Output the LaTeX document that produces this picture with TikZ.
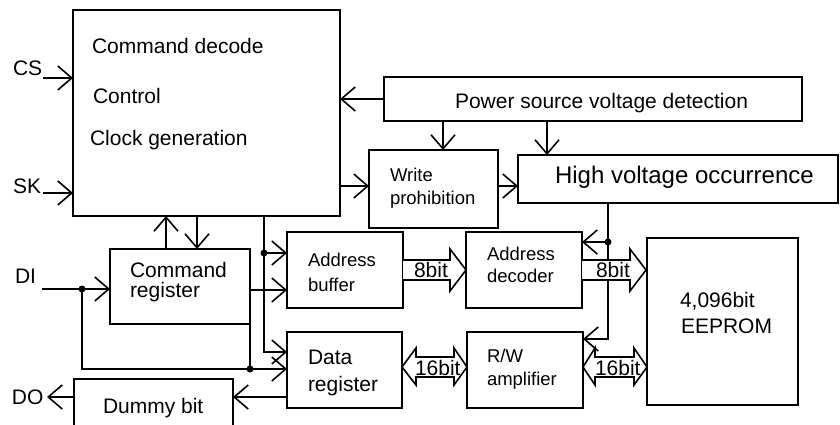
\documentclass[tikz,border=0pt]{standalone}
\usepackage{fontspec}
\setmainfont{Liberation Sans}
\usetikzlibrary{arrows.meta}
\begin{document}
\begin{tikzpicture}[x=1pt,y=-1pt,
  line width=1.6pt,
  box/.style={draw, rectangle, inner sep=0pt, outer sep=0pt, anchor=north west},
  txt/.style={inner sep=0pt, outer sep=0pt, anchor=base west, font=\fontsize{21}{25}\selectfont},
  stxt/.style={txt, font=\fontsize{18.5}{22}\selectfont},
  btxt/.style={txt, font=\fontsize{24}{28}\selectfont},
  arr/.style={-{Straight Barb[length=14pt,width=24pt]}},
  dot/.style={circle, fill, inner sep=0pt, minimum size=7pt},
  bus/.style={fill=white, line join=miter}
]
\useasboundingbox (0,0) rectangle (840,425);
\clip (0,0) rectangle (840,425);
\fill[white] (0,0) rectangle (840,425);

% boxes
\node[box, minimum width=267pt, minimum height=206pt] (ctrl) at (73,10) {};
\node[box, minimum width=418pt, minimum height=44pt] (power) at (384,77) {};
\node[box, minimum width=129pt, minimum height=78pt] (wp) at (369,150) {};
\node[box, minimum width=320pt, minimum height=48pt] (hv) at (518,155) {};
\node[box, minimum width=116pt, minimum height=76pt] (ab) at (287,232) {};
\node[box, minimum width=116pt, minimum height=76pt] (ad) at (466,232) {};
\node[box, minimum width=115pt, minimum height=76pt] (dr) at (287,332) {};
\node[box, minimum width=116pt, minimum height=76pt] (rw) at (467,332) {};
\node[box, minimum width=151pt, minimum height=167pt] (ee) at (647,238) {};
\node[box, minimum width=140pt, minimum height=75pt] (cr) at (110,249) {};
\node[box, minimum width=159pt, minimum height=60pt] (dummy) at (74,379) {};

% coordinates
\coordinate (cs) at (43,78);
\coordinate (sk) at (43,193);
\coordinate (di) at (42,289);
\coordinate (doc) at (47,397);
\coordinate (xa) at (443,0);
\coordinate (xb) at (547,0);
\coordinate (ya) at (0,186);
\coordinate (j1) at (608,242);
\coordinate (y339) at (0,339);
\coordinate (xu) at (166,0);
\coordinate (xd) at (197,0);
\coordinate (j2) at (82,289);
\coordinate (j3) at (250,369);
\coordinate (y290) at (0,290);
\coordinate (j4) at (264,253);
\coordinate (y352) at (0,352);
\coordinate (y397) at (0,397);

% connectors
\draw[arr] (cs) -- (ctrl.west |- cs);
\draw[arr] (sk) -- (ctrl.west |- sk);
\draw[arr] (power.west) -- (ctrl.east |- power.west);
\draw[arr] (power.south -| xa) -- (wp.north -| xa);
\draw[arr] (power.south -| xb) -- (hv.north -| xb);
\draw[arr] (ctrl.east |- ya) -- (wp.west |- ya);
\draw[arr] (wp.east |- ya) -- (hv.west |- ya);
\draw[arr] (hv.south -| j1) |- (rw.east |- y339);
\draw[arr] (j1) -- (ad.east |- j1);
\draw[arr] (cr.north -| xu) -- (ctrl.south -| xu);
\draw[arr] (ctrl.south -| xd) -- (cr.north -| xd);
\draw[arr] (di) -- (cr.west |- di);
\draw[arr] (j2) |- (dr.west |- j3);
\draw[arr] (cr.east |- y290) -- (ab.west |- y290);
\draw (cr.east |- y290) -- (j3);
\draw[arr] (ctrl.south -| j4) |- (dr.west |- y352);
\draw[arr] (j4) -- (ab.west |- j4);
\draw[arr] (dr.west |- y397) -- (dummy.east |- y397);
\draw[arr] (dummy.west |- y397) -- (doc);
\node[dot] (d1) at (j1) {};
\node[dot] (d2) at (j2) {};
\node[dot] (d3) at (j3) {};
\node[dot] (d4) at (j4) {};

% bus arrows
\filldraw[bus] (403,260) -- (450,260) -- (450,249) -- (466,270) -- (450,291) -- (450,280) -- (403,280);
\filldraw[bus] (582,260) -- (630,260) -- (630,249) -- (646,270) -- (630,291) -- (630,280) -- (582,280);
\filldraw[bus] (402,367) -- (416,348) -- (416,357) -- (454,357) -- (454,348) -- (467,367) -- (454,385) -- (454,377) -- (416,377) -- (416,385) -- cycle;
\filldraw[bus] (583,367) -- (595,348) -- (595,357) -- (634,357) -- (634,348) -- (647,367) -- (634,385) -- (634,377) -- (595,377) -- (595,385) -- cycle;

% texts
\node[txt] (t1) at (92,54) {Command decode};
\node[txt] (t2) at (93,103) {Control};
\node[txt] (t3) at (90,146) {Clock generation};
\node[txt] (t4) at (13,76) {CS};
\node[txt] (t5) at (13,193) {SK};
\node[txt] (t6) at (15,283) {DI};
\node[txt] (t7) at (12,404) {DO};
\node[txt] (t8) at (455,109) {Power source voltage detection};
\node[btxt] (t9) at (555,183) {High voltage occurrence};
\node[stxt] (t10) at (390,181) {Write};
\node[stxt] (t11) at (390,204) {prohibition};
\node[stxt] (t12) at (308,266) {Address};
\node[stxt] (t13) at (308,291) {buffer};
\node[stxt] (t14) at (487,260) {Address};
\node[stxt] (t15) at (487,282) {decoder};
\node[txt] (t16) at (308,364) {Data};
\node[txt] (t17) at (308,391) {register};
\node[stxt] (t18) at (487,362) {R/W};
\node[stxt] (t19) at (487,385) {amplifier};
\node[txt] (t20) at (130,277) {Command};
\node[txt] (t21) at (130,297) {register};
\node[txt] (t22) at (680,307) {4,096bit};
\node[txt] (t23) at (681,333) {EEPROM};
\node[txt] (t24) at (103,413) {Dummy bit};
\node[txt] (t25) at (414,277) {8bit};
\node[txt] (t26) at (596,277) {8bit};
\node[txt] (t27) at (415,375) {16bit};
\node[txt] (t28) at (595,375) {16bit};
\end{tikzpicture}
\end{document}
